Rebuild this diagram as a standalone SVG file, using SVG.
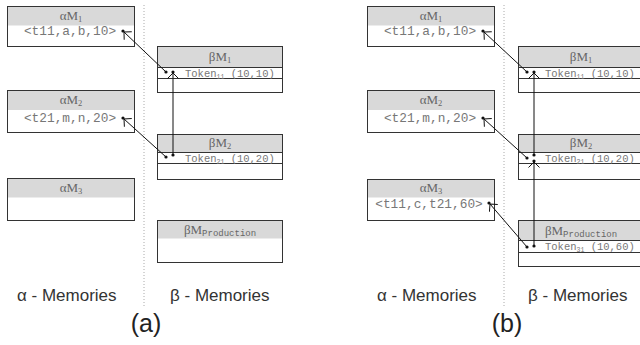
<svg xmlns="http://www.w3.org/2000/svg" width="640" height="345" viewBox="0 0 640 345">
  <style>
    .box { fill: #ffffff; stroke: #333333; stroke-width: 1; }
    .hdr { fill: #d9d9d9; stroke: none; }
    .row { fill: #ffffff; stroke: #333333; stroke-width: 1; }
    .title { font-family: "Liberation Serif", "Times New Roman", serif; font-size: 13px; fill: #666666; text-anchor: middle; }
    .sub { font-size: 8.5px; }
    .msub { font-family: "Liberation Mono", "Courier New", monospace; font-size: 9px; }
    .tuple { font-family: "Liberation Mono", "Courier New", monospace; font-size: 12.8px; fill: #777777; text-anchor: middle; }
    .token { font-family: "Liberation Mono", "Courier New", monospace; font-size: 10.5px; fill: #777777; }
    .tsub { font-size: 6.5px; }
    .label { font-family: "Liberation Sans", Arial, sans-serif; font-size: 17px; fill: #333333; }
    .cap { font-family: "Liberation Sans", Arial, sans-serif; font-size: 25px; fill: #222222; text-anchor: middle; }
    .divider { stroke: #aaaaaa; stroke-width: 1; stroke-dasharray: 1 2; }
    .conn { stroke: #111111; stroke-width: 1; fill: none; }
    .dot { fill: #111111; }
  </style>
  <defs>
    <marker id="openArrow" markerUnits="userSpaceOnUse" markerWidth="12" markerHeight="12" viewBox="-8 -6 10 12" refX="0" refY="0" orient="auto">
      <path d="M-5.5,-5.5 L0,0 L-5.5,5.5" fill="none" stroke="#111111" stroke-width="1"/>
    </marker>
  </defs>

  <!-- panel (a) -->
  <line class="divider" x1="144" y1="5" x2="144" y2="306"/>

  <g id="a-alpha1">
    <rect class="box" x="7.5" y="6.5" width="127" height="40"/>
    <rect class="hdr" x="8" y="7" width="126" height="18.5"/>
    <text class="title" x="71" y="20">αM<tspan class="sub" dy="2">1</tspan></text>
    <text class="tuple" x="70" y="35">&lt;t11,a,b,10&gt;</text>
    <circle class="dot" cx="123" cy="31" r="1.6"/>
  </g>
  <g id="a-alpha2">
    <rect class="box" x="7.5" y="90.5" width="127" height="42"/>
    <rect class="hdr" x="8" y="91" width="126" height="19"/>
    <text class="title" x="71" y="104">αM<tspan class="sub" dy="2">2</tspan></text>
    <text class="tuple" x="70" y="121.5">&lt;t21,m,n,20&gt;</text>
    <circle class="dot" cx="123" cy="118" r="1.6"/>
  </g>
  <g id="a-alpha3">
    <rect class="box" x="7.5" y="178.5" width="127" height="42"/>
    <rect class="hdr" x="8" y="179" width="126" height="18.5"/>
    <text class="title" x="71" y="192">αM<tspan class="sub" dy="2">3</tspan></text>
  </g>

  <g id="a-beta1">
    <rect class="box" x="157.5" y="46.5" width="125" height="46"/>
    <rect class="hdr" x="158" y="47" width="124" height="20"/>
    <text class="title" x="220" y="61">βM<tspan class="sub" dy="2">1</tspan></text>
    <rect class="row" x="157.5" y="67.5" width="125" height="11"/>
    <text class="token" x="185" y="76.5">Token<tspan class="tsub" dy="2">11</tspan><tspan dy="-2"> (10,10)</tspan></text>
    <circle class="dot" cx="166" cy="72" r="1.6"/>
    <circle class="dot" cx="173" cy="72" r="1.6"/>
  </g>
  <g id="a-beta2">
    <rect class="box" x="157.5" y="134.5" width="125" height="45"/>
    <rect class="hdr" x="158" y="135" width="124" height="17"/>
    <text class="title" x="220" y="147">βM<tspan class="sub" dy="2">2</tspan></text>
    <rect class="row" x="157.5" y="152.5" width="125" height="11"/>
    <text class="token" x="185" y="161.5">Token<tspan class="tsub" dy="2">21</tspan><tspan dy="-2"> (10,20)</tspan></text>
    <circle class="dot" cx="166" cy="157" r="1.6"/>
    <circle class="dot" cx="173" cy="155" r="1.6"/>
  </g>
  <g id="a-betaProd">
    <rect class="box" x="157.5" y="220.5" width="125" height="42"/>
    <rect class="hdr" x="158" y="221" width="124" height="17.5"/>
    <text class="title" x="220" y="234">βM<tspan class="msub" dy="2">Production</tspan></text>
  </g>

  <g id="a-connectors">
    <line class="conn" x1="166" y1="72" x2="124" y2="32" marker-end="url(#openArrow)"/>
    <line class="conn" x1="166" y1="157" x2="124" y2="119" marker-end="url(#openArrow)"/>
    <line class="conn" x1="173" y1="155" x2="173" y2="73" marker-end="url(#openArrow)"/>
  </g>

  <text class="label" x="17" y="301">α - Memories</text>
  <text class="label" x="170" y="301">β - Memories</text>
  <text class="cap" x="146" y="332">(a)</text>

  <!-- panel (b) -->
  <line class="divider" x1="504" y1="5" x2="504" y2="306"/>

  <g id="b-alpha1">
    <rect class="box" x="367.5" y="6.5" width="127" height="40"/>
    <rect class="hdr" x="368" y="7" width="126" height="18.5"/>
    <text class="title" x="431" y="20">αM<tspan class="sub" dy="2">1</tspan></text>
    <text class="tuple" x="430" y="35">&lt;t11,a,b,10&gt;</text>
    <circle class="dot" cx="483" cy="31" r="1.6"/>
  </g>
  <g id="b-alpha2">
    <rect class="box" x="367.5" y="90.5" width="127" height="42"/>
    <rect class="hdr" x="368" y="91" width="126" height="19"/>
    <text class="title" x="431" y="104">αM<tspan class="sub" dy="2">2</tspan></text>
    <text class="tuple" x="430" y="121.5">&lt;t21,m,n,20&gt;</text>
    <circle class="dot" cx="483" cy="118" r="1.6"/>
  </g>
  <g id="b-alpha3">
    <rect class="box" x="367.5" y="179.5" width="127" height="41"/>
    <rect class="hdr" x="368" y="180" width="126" height="17.5"/>
    <text class="title" x="431" y="192">αM<tspan class="sub" dy="2">3</tspan></text>
    <text class="tuple" x="429" y="207.5">&lt;t11,c,t21,60&gt;</text>
    <circle class="dot" cx="489" cy="203" r="1.6"/>
  </g>

  <g id="b-beta1">
    <rect class="box" x="518.5" y="46.5" width="125" height="46"/>
    <rect class="hdr" x="519" y="47" width="124" height="20"/>
    <text class="title" x="581" y="61">βM<tspan class="sub" dy="2">1</tspan></text>
    <rect class="row" x="518.5" y="67.5" width="125" height="11"/>
    <text class="token" x="545" y="76.5">Token<tspan class="tsub" dy="2">11</tspan><tspan dy="-2"> (10,10)</tspan></text>
    <circle class="dot" cx="527" cy="72" r="1.6"/>
    <circle class="dot" cx="534" cy="72" r="1.6"/>
  </g>
  <g id="b-beta2">
    <rect class="box" x="518.5" y="134.5" width="125" height="45"/>
    <rect class="hdr" x="519" y="135" width="124" height="17"/>
    <text class="title" x="581" y="147">βM<tspan class="sub" dy="2">2</tspan></text>
    <rect class="row" x="518.5" y="152.5" width="125" height="11"/>
    <text class="token" x="545" y="161.5">Token<tspan class="tsub" dy="2">21</tspan><tspan dy="-2"> (10,20)</tspan></text>
    <circle class="dot" cx="527" cy="158" r="1.6"/>
    <circle class="dot" cx="534" cy="155" r="1.6"/>
    <circle class="dot" cx="534" cy="161" r="1.6"/>
  </g>
  <g id="b-betaProd">
    <rect class="box" x="518.5" y="220.5" width="125" height="46"/>
    <rect class="hdr" x="519" y="221" width="124" height="19"/>
    <text class="title" x="581" y="235">βM<tspan class="msub" dy="2">Production</tspan></text>
    <rect class="row" x="518.5" y="240.5" width="125" height="12"/>
    <text class="token" x="545" y="250">Token<tspan class="tsub" dy="2">31</tspan><tspan dy="-2"> (10,60)</tspan></text>
    <circle class="dot" cx="527" cy="247" r="1.6"/>
    <circle class="dot" cx="534" cy="246" r="1.6"/>
  </g>

  <g id="b-connectors">
    <line class="conn" x1="527" y1="72" x2="484" y2="32" marker-end="url(#openArrow)"/>
    <line class="conn" x1="527" y1="158" x2="484" y2="119" marker-end="url(#openArrow)"/>
    <line class="conn" x1="527" y1="247" x2="490" y2="204" marker-end="url(#openArrow)"/>
    <line class="conn" x1="534" y1="155" x2="534" y2="73" marker-end="url(#openArrow)"/>
    <line class="conn" x1="534" y1="246" x2="534" y2="162" marker-end="url(#openArrow)"/>
  </g>

  <text class="label" x="377" y="301">α - Memories</text>
  <text class="label" x="528" y="301">β - Memories</text>
  <text class="cap" x="507" y="332">(b)</text>
</svg>
